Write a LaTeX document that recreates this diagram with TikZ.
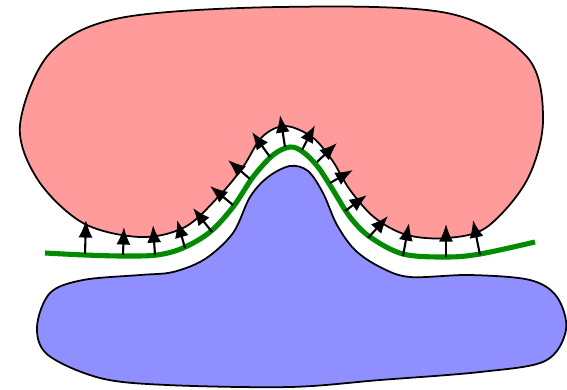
\documentclass[tikz,border=0pt]{standalone}
\usetikzlibrary{arrows.meta}

\definecolor{upperfill}{RGB}{255,155,155}
\definecolor{lowerfill}{RGB}{143,143,255}
\definecolor{surface}{RGB}{0,140,0}

\begin{document}
\begin{tikzpicture}[x=0.02cm,y=-0.02cm,blob/.style={draw=black,line width=1pt},normal/.style={-{Latex[length=10pt,width=8pt]},line width=1.2pt}]
\useasboundingbox (0,0) rectangle (567,389);
% upper body with its notch
\draw[blob,fill=upperfill] plot[smooth cycle,tension=0.55] coordinates {(20,125) (50,53) (120,18) (280,7) (447,13) (527,57) (543,120) (527,180) (487,227) (447,238) (407,235) (375,218) (350,190) (332,160) (312,137) (285,126) (262,137) (243,167) (220,195) (185,227) (140,237) (83,223) (38,180)};
% lower body with its bump
\draw[blob,fill=lowerfill] plot[smooth cycle,tension=0.55] coordinates {(37,327) (48,355) (100,378) (167,385) (290,387) (380,380) (480,372) (545,361) (566,330) (557,297) (530,280) (470,275) (410,277) (380,267) (355,250) (337,225) (323,193) (308,171) (290,166) (268,177) (250,197) (233,233) (205,259) (173,272) (140,275) (83,280) (50,293)};
% surface in between
\draw[surface,line width=2.9pt] plot[smooth,tension=0.55] coordinates {(45,253) (85,255) (123,256) (157,255) (183,248) (210,232) (233,207) (253,177) (273,155) (290,147) (303,152) (318,167) (333,190) (350,217) (370,237) (403,254) (446,257) (480,254) (535,242)};
% normals on the surface
\foreach \bx/\by/\tx/\ty in {85/254/86/220,123/255/124/227,155/255/153/225,185/248/177/220,212/232/193/208,233/205/210/186,250/179/228/160,270/157/252/132,285/147/280/115,302/150/315/125,317/162/337/143,330/183/353/170,345/211/367/195,368/238/388/216,403/256/409/223,446/257/446/224,480/255/473/220}{\draw[normal] (\bx,\by) -- (\tx,\ty);}
\end{tikzpicture}
\end{document}
